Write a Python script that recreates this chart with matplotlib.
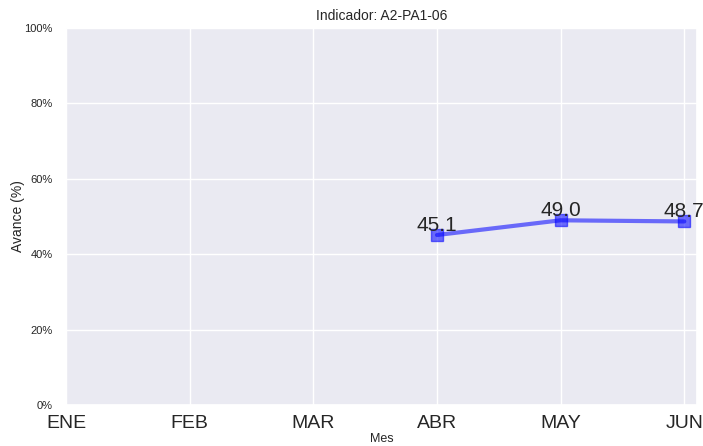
import matplotlib
matplotlib.use("Agg")
import matplotlib.pyplot as plt
import seaborn as sns
from matplotlib.ticker import PercentFormatter

meses = ['ENE', 'FEB', 'MAR', 'ABR', 'MAY', 'JUN']
meses_con_dato = ['ABR', 'MAY', 'JUN']
avance = [45.1, 49.0, 48.7]

sns.set_theme(style='darkgrid')
plt.rcParams['font.family'] = ['Liberation Sans', 'DejaVu Sans']

fig, ax = plt.subplots(figsize=(7.03, 4.46), dpi=100)
fig.subplots_adjust(left=0.094, right=0.991, top=0.937, bottom=0.092)

x = [meses.index(m) for m in meses_con_dato]
ax.plot(x, avance, color='blue', alpha=0.55, linewidth=3, marker='s', markersize=8)
for xi, v in zip(x, avance):
    ax.text(xi, v, f'{v:.1f}', ha='center', va='bottom', fontsize=15, color='#262626')

ax.set_xticks(range(len(meses)))
ax.set_xticklabels(meses, fontsize=14)
ax.set_xlim(0, 5.1)
ax.set_ylim(0, 100)
ax.set_yticks([0, 20, 40, 60, 80, 100])
ax.yaxis.set_major_formatter(PercentFormatter(decimals=0))
ax.tick_params(axis='y', labelsize=8)
ax.tick_params(axis='x', pad=1)
ax.set_title('Indicador: A2-PA1-06', fontsize=10)
ax.set_xlabel('Mes', fontsize=9, labelpad=1)
ax.set_ylabel('Avance (%)', fontsize=10, labelpad=0)

fig.savefig('out.png', dpi=100)
